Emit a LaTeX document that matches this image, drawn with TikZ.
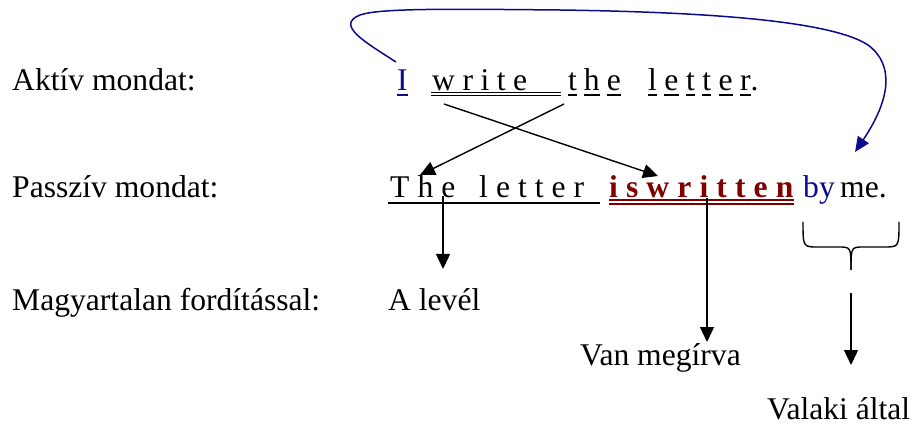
\documentclass[tikz,border=0pt]{standalone}
\usepackage{fontspec}
\setmainfont{Liberation Serif}
\usetikzlibrary{arrows.meta}
\definecolor{navyb}{RGB}{10,10,140}
\definecolor{darkred}{RGB}{128,0,0}
\makeatletter
\newcommand\spaceout[2]{\def\sgap{#1}\def\spre{}\@tfor\sch:=#2\do{\spre\sch\def\spre{\hspace{\sgap}}}}
\newcommand\luword[2]{\def\sgap{#1}\def\spre{}\@tfor\sch:=#2\do{\spre\setbox0\hbox{\sch}\rlap{\rule[-4.6pt]{\wd0}{1.5pt}}\box0\def\spre{\hspace{\sgap}}}}
\makeatother
\tikzset{
  txt/.style={inner sep=0pt, anchor=base west, font=\fontsize{31.6}{38}\selectfont},
  arr/.style={line width=1.4pt, -{Triangle[length=15pt,width=14pt]}},
  barr/.style={navyb, line width=1.5pt, -{Triangle[length=15pt,width=13pt]}},
  brace/.style={line width=1.4pt},
}
\begin{document}
\begin{tikzpicture}[x=1pt,y=-1pt]
\useasboundingbox (0,0) rectangle (917,427);
% labels
\node[txt] (l1) at (12,91) {Aktív mondat:};
\node[txt] (l2) at (12,198) {Passzív mondat:};
\node[txt] (l3) at (12,310) {Magyartalan fordítással:};
% active sentence
\node[txt,text=navyb] (I) at (397,91) {I};
\node[txt] (write) at (432,91) {\spaceout{7.5pt}{write}};
\node[txt] (the) at (568,91) {\luword{7pt}{the}};
\node[txt] (letter) at (648,91) {\luword{7.5pt}{letter}.};
\draw[navyb,line width=1.5pt] ([yshift=-3.8pt]I.base west) -- ([yshift=-3.8pt]I.base east);
\draw[line width=1pt] ([xshift=-1pt,yshift=-1.8pt]write.base west) -- ++(130,0);
\draw[line width=1pt] ([xshift=-1pt,yshift=-4.6pt]write.base west) -- ++(130,0);
% passive sentence
\node[txt] (the2) at (390,198) {\spaceout{8pt}{The~letter}};
\node[txt,text=darkred,font=\fontsize{31.6}{38}\selectfont\bfseries] (isw) at (609,198) {\spaceout{8.1pt}{iswritten}};
\node[txt,text=navyb] (by) at (803,198) {by};
\node[txt] (me) at (840,198) {me.};
\draw[line width=2pt] ([xshift=-2pt,yshift=-5pt]the2.base west) -- ++(212,0);
\draw[darkred,line width=1.4pt] ([yshift=-2pt]isw.base west) -- ([yshift=-2pt]isw.base east);
\draw[darkred,line width=1.4pt] ([yshift=-6pt]isw.base west) -- ([yshift=-6pt]isw.base east);
% translations
\node[txt] (alevel) at (388,310) {A levél};
\node[txt] (van) at (580,365) {Van megírva};
\node[txt] (valaki) at (767,419) {Valaki által};
% crossing arrows
\coordinate (a1) at (444,104);
\coordinate (a2) at (658,176);
\coordinate (b1) at (564,104);
\coordinate (b2) at (420,175);
\draw[arr] (a1) -- (a2);
\draw[arr] (b1) -- (b2);
% vertical arrows
\coordinate (c1) at (443,196);
\coordinate (c2) at (443,269);
\coordinate (d1) at (707,198);
\coordinate (d2) at (707,342);
\draw[arr] (c1) -- (c2);
\draw[arr] (d1) -- (d2);
% brace
\coordinate (bl) at (803,222);
\coordinate (br) at (899,222);
\coordinate (bm) at (851,270);
\draw[brace] (bl) .. controls (803,247) .. (818,247) -- (838,247) .. controls (851,247) .. (bm);
\draw[brace] (br) .. controls (899,247) .. (884,247) -- (864,247) .. controls (851,247) .. (bm);
\coordinate (e1) at (851,293);
\coordinate (e2) at (851,365);
\draw[arr] (e1) -- (e2);
% blue curve
\coordinate (f1) at (396,62);
\coordinate (f2) at (855,152);
\draw[barr] (f1) .. controls (365,42) and (335,25) .. (360,15)
  .. controls (380,8) and (450,9) .. (560,10)
  .. controls (700,12) and (830,20) .. (868,45)
  .. controls (895,65) and (890,100) .. (f2);
\end{tikzpicture}
\end{document}
